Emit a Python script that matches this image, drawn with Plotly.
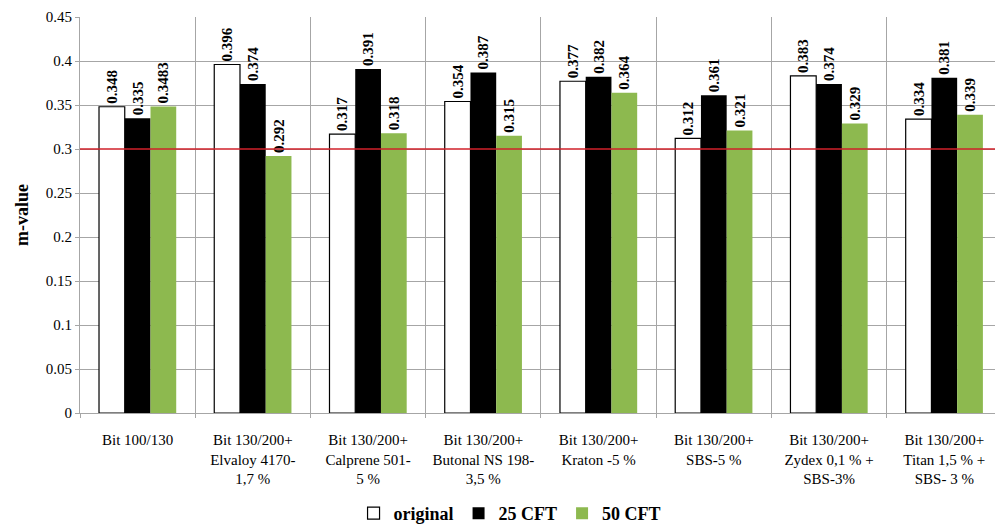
import plotly.graph_objects as go

categories = [
    "Bit 100/130",
    "Bit 130/200+<br>Elvaloy 4170-<br>1,7 %",
    "Bit 130/200+<br>Calprene 501-<br>5 %",
    "Bit 130/200+<br>Butonal NS 198-<br>3,5 %",
    "Bit 130/200+<br>Kraton -5 %",
    "Bit 130/200+<br>SBS-5 %",
    "Bit 130/200+<br>Zydex 0,1 % +<br>SBS-3%",
    "Bit 130/200+<br>Titan 1,5 % +<br>SBS- 3 %",
]
original = [0.348, 0.396, 0.317, 0.354, 0.377, 0.312, 0.383, 0.334]
cft25 = [0.335, 0.374, 0.391, 0.387, 0.382, 0.361, 0.374, 0.381]
cft50 = [0.3483, 0.292, 0.318, 0.315, 0.364, 0.321, 0.329, 0.339]
threshold = 0.3

serif = "Liberation Serif"
lbl_font = dict(family=serif, size=15, color="black")

fig = go.Figure()
series = [
    ("original", original, "white", "black", 1.2),
    ("25 CFT", cft25, "black", "black", 0),
    ("50 CFT", cft50, "#8DB94F", "#8DB94F", 0),
]
for name, vals, fill, line, lw in series:
    fig.add_trace(go.Bar(
        name=name, x=categories, y=vals,
        marker=dict(color=fill, line=dict(color=line, width=lw)),
        text=[str(v) for v in vals], textposition="outside", textangle=-90,
        textfont=dict(family=serif, size=15, color="black", weight="bold"),
        cliponaxis=False,
    ))

fig.add_hline(y=threshold, line=dict(color="#D0202A", width=1.5))

fig.update_layout(
    width=995, height=527,
    margin=dict(l=80, r=0, t=17, b=114, autoexpand=False),
    paper_bgcolor="white", plot_bgcolor="white",
    barmode="group", bargap=0.33, bargroupgap=0,
    font=dict(family=serif, color="black"),
    legend=dict(orientation="h", x=0.47, xanchor="center", y=-0.207, yanchor="top",
                font=dict(family=serif, size=18, color="black", weight="bold"),
                itemwidth=30, traceorder="normal"),
    uniformtext=dict(minsize=15, mode="show"),
)
fig.update_xaxes(
    type="category", range=[-0.5, 7.44], tickson="boundaries",
    showgrid=True, gridcolor="#A6A6A6", gridwidth=1,
    ticks="outside", ticklen=4, tickcolor="#A6A6A6", tickfont=lbl_font,
    showline=True, linecolor="#A6A6A6", ticklabelstandoff=13, automargin=False,
)
fig.update_yaxes(
    range=[0, 0.45], dtick=0.05, showgrid=True, gridcolor="#A6A6A6", gridwidth=1,
    tickfont=dict(family=serif, size=15, color="black"),
    showline=True, linecolor="#A6A6A6", ticks="outside", ticklen=4, tickcolor="#A6A6A6",
    zeroline=False, automargin=False,
    title=dict(text="<b>m-value</b>", font=dict(family=serif, size=18, color="black"), standoff=12),
)

fig.write_html("out.html", config={"displayModeBar": False})
with open("out.html", encoding="utf-8") as f:
    html = f.read()
html = html.replace("<body>", '<body style="margin:0;padding:0;overflow:hidden">', 1)
with open("out.html", "w", encoding="utf-8") as f:
    f.write(html)
